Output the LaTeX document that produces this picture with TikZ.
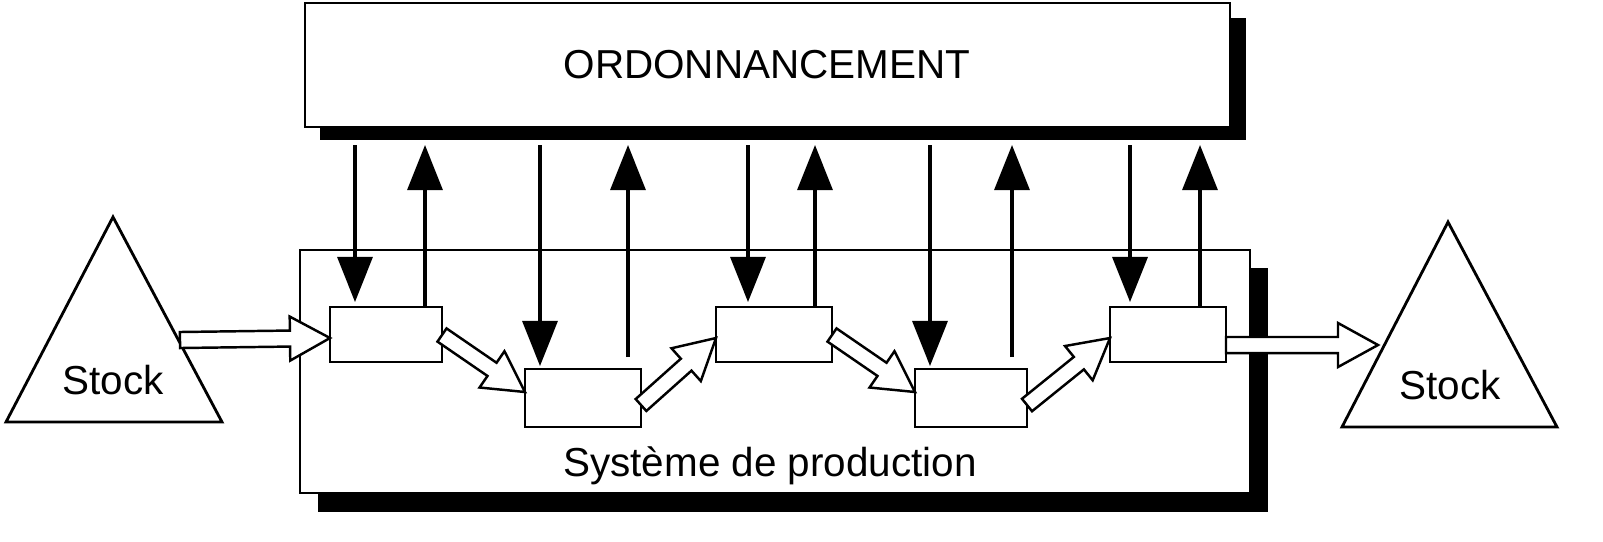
\documentclass[tikz,border=0pt]{standalone}
\usepackage{fontspec}
\setmainfont{Liberation Sans}
\usetikzlibrary{calc,arrows.meta,shapes.geometric}
\newcommand\harrow[2]{%
 \coordinate (hb) at ($(#2)!0.4cm!(#1)$);
 \draw[fill=white,line width=0.7pt] ($(#1)!0.08cm!90:(#2)$) -- ($(hb)!0.08cm!-90:(#1)$) -- ($(hb)!0.22cm!-90:(#1)$) -- (#2) -- ($(hb)!0.22cm!90:(#1)$) -- ($(hb)!0.08cm!90:(#1)$) -- ($(#1)!0.08cm!-90:(#2)$) -- cycle;}
\begin{document}
\begin{tikzpicture}[x=0.01cm,y=-0.01cm,
  lbl/.style={font=\fontsize{11.5}{13}\selectfont},
  bx/.style={draw,fill=white,line width=0.8pt},
  vline/.style={line width=0.9pt,-{Triangle[width=0.35cm,length=0.45cm]}}]
\useasboundingbox (0,0) rectangle (1603,541);
% top box
\fill (320,18) rectangle (1246,140);
\draw[bx] (305,3) rectangle (1230,127);
\node[lbl] (ord) at (767,65) {ORDONNANCEMENT};
% production box
\fill (318,268) rectangle (1268,512);
\draw[bx] (300,250) rectangle (1250,493);
\node[lbl] (sys) at (770,466) {Système de production};
% triangles
\draw[line width=0.8pt,fill=white] (113,217) -- (222,422) -- (6,422) -- cycle;
\node[lbl] (s1) at (113,380) {Stock};
\draw[line width=0.8pt,fill=white] (1448,222) -- (1557,427) -- (1342,427) -- cycle;
\node[lbl] (s2) at (1450,385) {Stock};
% small boxes
\draw[bx] (330,307) rectangle (442,362);
\draw[bx] (525,369) rectangle (641,427);
\draw[bx] (716,307) rectangle (832,362);
\draw[bx] (915,369) rectangle (1027,427);
\draw[bx] (1110,307) rectangle (1226,362);
% vertical arrows
\foreach \d/\u/\e in {355/425/302, 540/628/366, 748/815/302, 930/1012/366, 1130/1200/302}{
  \draw[vline] (\d,145) -- (\d,\e);
  \pgfmathsetmacro\s{\e==302 ? 307 : 357}
  \draw[vline] (\u,\s) -- (\u,145);
}
% hollow arrows
\coordinate (a0) at (180,340); \coordinate (a1) at (330,338);
\coordinate (b0) at (442,335); \coordinate (b1) at (525,392);
\coordinate (c0) at (641,405); \coordinate (c1) at (716,338);
\coordinate (d0) at (832,335); \coordinate (d1) at (915,392);
\coordinate (e0) at (1027,405); \coordinate (e1) at (1110,338);
\coordinate (f0) at (1226,345); \coordinate (f1) at (1378,345);
\harrow{a0}{a1}\harrow{b0}{b1}\harrow{c0}{c1}\harrow{d0}{d1}\harrow{e0}{e1}\harrow{f0}{f1}
\end{tikzpicture}
\end{document}
